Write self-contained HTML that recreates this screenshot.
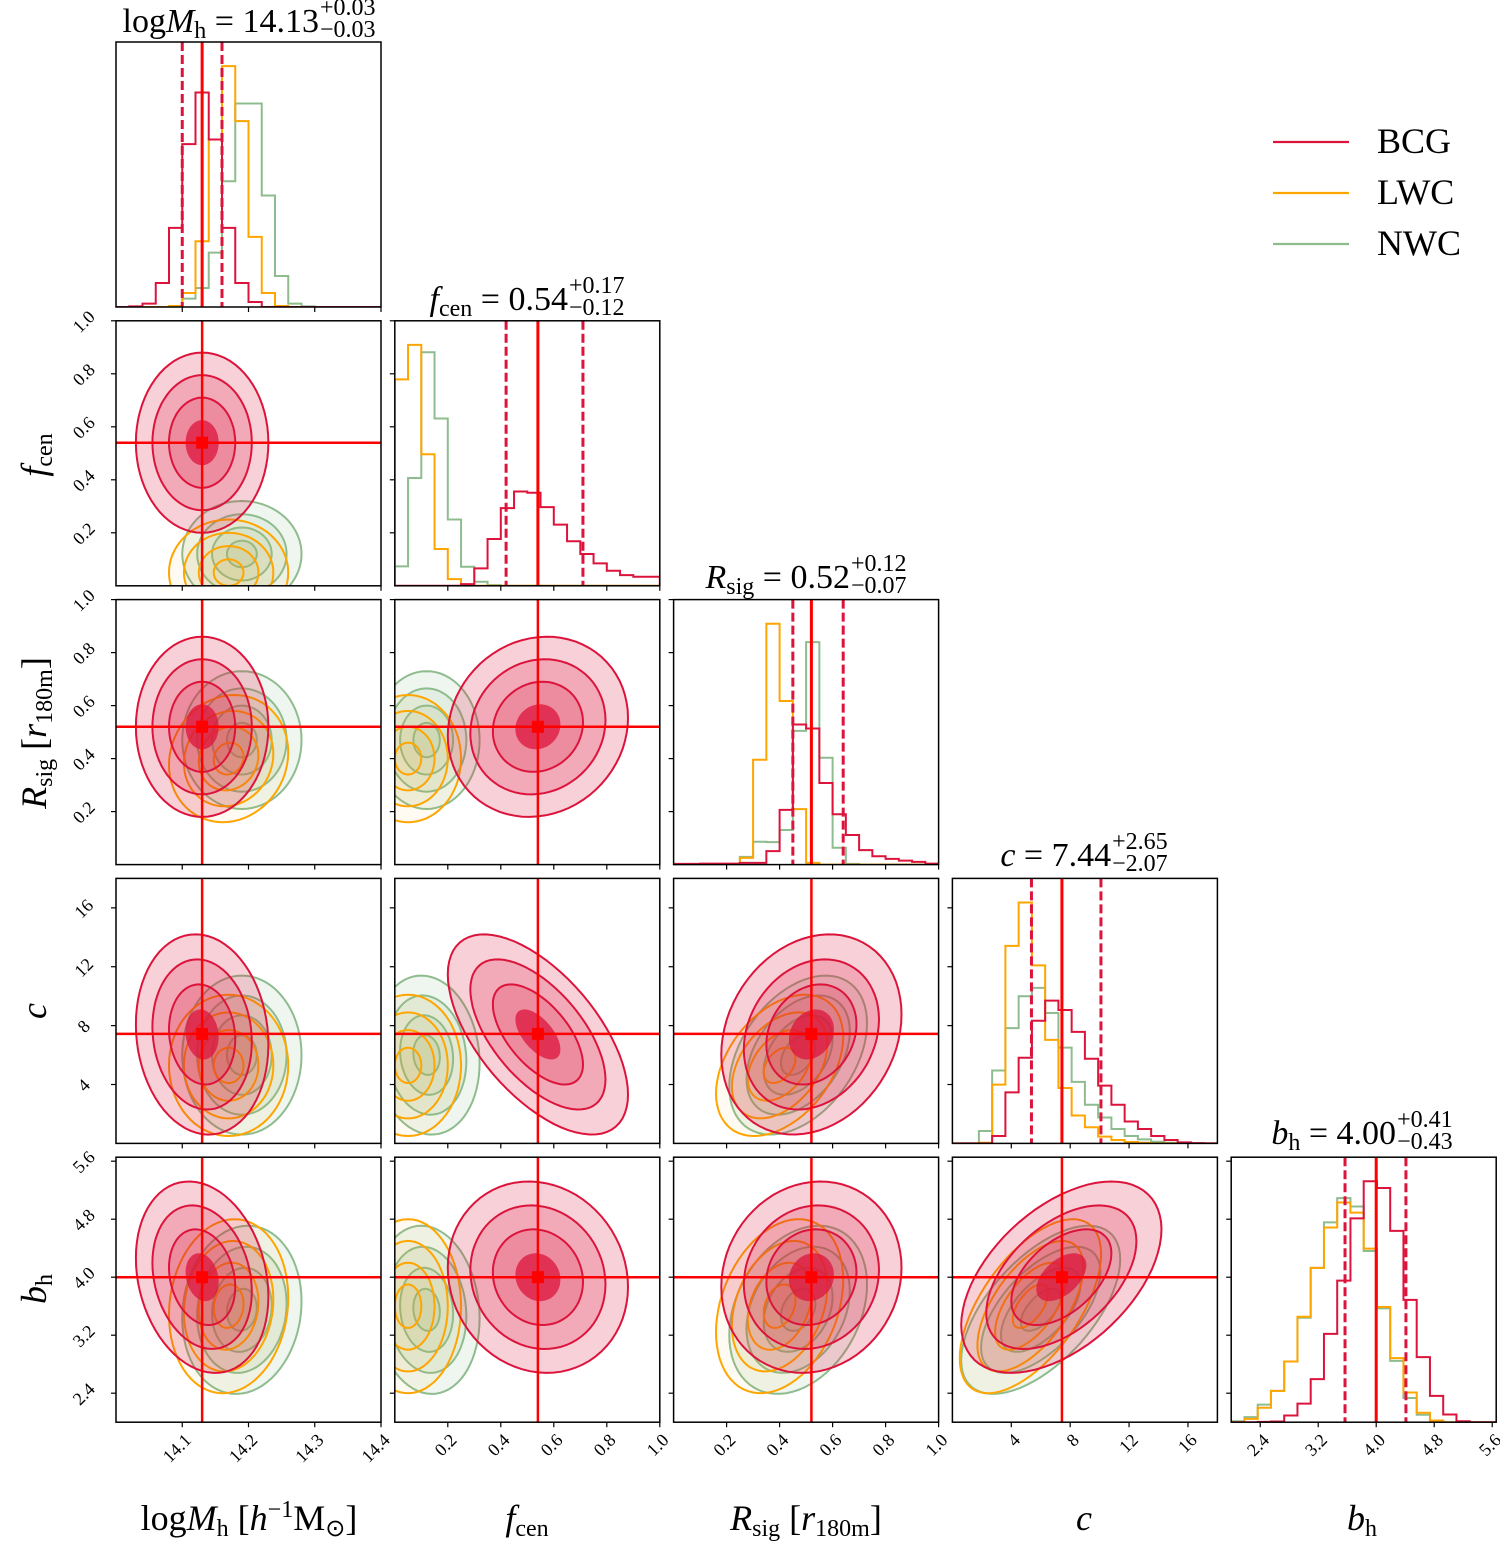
<!DOCTYPE html>
<html><head><meta charset="utf-8">
<style>
html,body{margin:0;padding:0;background:#fff;}
#wrap{position:relative;width:1500px;height:1548px;overflow:hidden;font-family:"Liberation Serif",serif;}
svg{position:absolute;left:0;top:0;}
.ttl{position:absolute;font-size:34px;white-space:nowrap;transform:translateX(-50%);line-height:1;}
.ss{display:inline-block;vertical-align:middle;font-size:24px;line-height:0.92;text-align:left;margin-left:1px;position:relative;top:-5px;}
.ss span{display:block;}
.xl{position:absolute;font-size:36px;white-space:nowrap;transform:translateX(-50%);top:1497px;}
.yl{position:absolute;font-size:36px;white-space:nowrap;transform:translate(-50%,-50%) rotate(-90deg);left:34px;}
sub{font-size:24px;vertical-align:-6px;line-height:0;}
sup{font-size:24px;vertical-align:13px;line-height:0;}
.leg{position:absolute;font-size:36px;left:1377px;}
</style></head><body>
<div id="wrap">
<svg id="plot" width="1500" height="1548"></svg>

<div class="ttl" style="left:249px;top:2px;">log<i>M</i><sub>h</sub> = 14.13<span class="ss"><span>+0.03</span><span>−0.03</span></span></div>
<div class="ttl" style="left:527px;top:280px;"><i>f</i><sub>cen</sub> = 0.54<span class="ss"><span>+0.17</span><span>−0.12</span></span></div>
<div class="ttl" style="left:806px;top:558px;"><i>R</i><sub>sig</sub> = 0.52<span class="ss"><span>+0.12</span><span>−0.07</span></span></div>
<div class="ttl" style="left:1084px;top:836px;"><i>c</i> = 7.44<span class="ss"><span>+2.65</span><span>−2.07</span></span></div>
<div class="ttl" style="left:1362px;top:1114px;"><i>b</i><sub>h</sub> = 4.00<span class="ss"><span>+0.41</span><span>−0.43</span></span></div>

<div class="xl" style="left:249px;">log<i>M</i><sub>h</sub> [<i>h</i><sup>−1</sup>M<sub>⊙</sub>]</div>
<div class="xl" style="left:527px;"><i>f</i><sub>cen</sub></div>
<div class="xl" style="left:806px;"><i>R</i><sub>sig</sub> [<i>r</i><sub>180m</sub>]</div>
<div class="xl" style="left:1084px;"><i>c</i></div>
<div class="xl" style="left:1362px;"><i>b</i><sub>h</sub></div>

<div class="yl" style="top:455px;"><i>f</i><sub>cen</sub></div>
<div class="yl" style="top:733px;"><i>R</i><sub>sig</sub> [<i>r</i><sub>180m</sub>]</div>
<div class="yl" style="top:1011px;"><i>c</i></div>
<div class="yl" style="top:1289px;"><i>b</i><sub>h</sub></div>

<div class="leg" style="top:120px;">BCG</div>
<div class="leg" style="top:171px;">LWC</div>
<div class="leg" style="top:222px;">NWC</div>
</div>
<script>
const paramNames = ['logMh','fcen','Rsig','c','bh'];
const axisLo = [14.0, 0, 0, 0, 2.0];
const axisHi = [14.4, 1, 1, 18, 5.655];
const tickVals = [[14.1,14.2,14.3,14.4],[0.2,0.4,0.6,0.8,1.0],[0.2,0.4,0.6,0.8,1.0],[4,8,12,16],[2.4,3.2,4.0,4.8,5.6]];
const tickLabels = [['14.1','14.2','14.3','14.4'],['0.2','0.4','0.6','0.8','1.0'],['0.2','0.4','0.6','0.8','1.0'],['4','8','12','16'],['2.4','3.2','4.0','4.8','5.6']];
const medians = [14.13, 0.54, 0.52, 7.44, 4.00];
const qLow = [14.10, 0.42, 0.45, 5.37, 3.57];
const qHigh = [14.16, 0.71, 0.64, 10.09, 4.41];

const histBCG = [
 [0,2,10,72,237,488,643,502,237,72,15,0,0,0,0,0,0,0,0,0],
 [0,0,0,0,0,5,52,140,232,282,278,235,183,133,95,67,45,32,27,27],
 [2,2,3,3,3,5,5,40,163,417,405,243,150,88,43,25,17,12,8,3],
 [0,0,0,22,152,255,365,425,397,332,252,172,115,65,43,22,10,3,1,0],
 [0,0,1,2,20,55,128,262,420,605,715,695,568,363,193,78,23,3,0,0]];
const histLWC = [
 [0,0,0,0,3,42,197,502,722,557,210,42,3,0,0,0,0,0,0,0],
 [617,720,393,110,20,3,0,0,0,0,0,0,0,0,0,0,0,0,0,0],
 [0,0,0,0,0,20,312,717,487,165,5,0,0,0,0,0,0,0,0,0],
 [0,0,2,175,588,717,530,308,165,83,48,20,10,4,2,0,0,0,0,0],
 [0,10,43,93,180,313,458,578,652,622,515,342,190,88,28,5,0,0,0,0]];
const histNWC = [
 [0,0,0,0,3,25,57,163,377,610,610,334,93,10,2,0,0,0,0,0],
 [58,322,698,500,198,57,12,2,0,0,0,0,0,0,0,0,0,0,0,0],
 [0,0,0,0,0,23,68,67,103,398,662,318,50,2,0,0,0,0,0,0],
 [0,0,37,217,343,438,463,388,285,183,115,77,43,22,12,5,2,0,0,0],
 [3,15,52,93,180,310,458,593,665,640,508,338,182,72,22,3,0,0,0,0]];

const meanBCG = [14.13, 0.54, 0.52, 7.4, 4.0];
const sigBCG = [0.05, 0.17, 0.17, 3.4, 0.66];
const meanLWC = [14.17, 0.05, 0.40, 5.3, 3.6];
const sigLWC = [0.045, 0.10, 0.12, 2.4, 0.6];
const meanNWC = [14.19, 0.12, 0.47, 6.0, 3.55];
const sigNWC = [0.045, 0.10, 0.13, 2.7, 0.58];
const corrBCG = [[1],[0,1],[0,0.1,1],[-0.1,-0.6,0.2,1],[-0.2,-0.1,0.1,0.5,1]];
const corrLWC = [[1],[0,1],[0.1,0,1],[0,0,0.4,1],[0.1,0,0.3,0.6,1]];
const corrNWC = [[1],[0,1],[0,0,1],[0,-0.1,0.4,1],[0.1,-0.1,0.3,0.6,1]];
const levels = [0.5, 1.0, 1.5, 2.0];

const L0 = 116, T0 = 42, STEP = 278.8, W = 265;
const NS = 'http://www.w3.org/2000/svg';
const svg = document.getElementById('plot');
function el(tag, attrs, parent){ const e=document.createElementNS(NS,tag); for(const k in attrs) e.setAttribute(k,attrs[k]); (parent||svg).appendChild(e); return e; }
function px0(j){ return L0 + j*STEP; }
function py0(i){ return T0 + i*STEP; }
function xs(j,v){ return px0(j) + (v-axisLo[j])/(axisHi[j]-axisLo[j])*W; }
function ys(i,v){ return py0(i) + W - (v-axisLo[i])/(axisHi[i]-axisLo[i])*W; }

const defs = el('defs',{});
const pops = [
 {name:'nwc', mean:meanNWC, sig:sigNWC, corr:corrNWC, hist:histNWC, color:'#8fbc8f', fill:'#8fbc8f', fo:0.14},
 {name:'lwc', mean:meanLWC, sig:sigLWC, corr:corrLWC, hist:histLWC, color:'#ffa500', fill:'#ffa500', fo:0.05},
 {name:'bcg', mean:meanBCG, sig:sigBCG, corr:corrBCG, hist:histBCG, color:'#dc143c', fill:'#dc143c', fo:0.2}
];

for(let i=0;i<5;i++){
 for(let j=0;j<=i;j++){
  const g = el('g',{});
  
  
  const cp = el('clipPath',{id:'cp'+i+j},defs);
  el('rect',{x:px0(j),y:py0(i),width:W,height:W},cp);
  const inner = el('g',{'clip-path':'url(#cp'+i+j+')'},g);
  if(i===j){
   let mx = 0;
   pops.forEach(p=>{ p.hist[i].forEach(v=>{ if(v>mx) mx=v; }); });
   const ymax = mx*1.1;
   pops.forEach(p=>{
    const h = p.hist[i]; const n = h.length; const bw = (axisHi[i]-axisLo[i])/n;
    const bottom = py0(i)+W;
    let d = 'M'+xs(j,axisLo[i])+','+bottom;
    for(let b=0;b<n;b++){
     const yv = bottom - h[b]/ymax*W;
     d += ' L'+xs(j,axisLo[i]+b*bw)+','+yv+' L'+xs(j,axisLo[i]+(b+1)*bw)+','+yv;
    }
    d += ' L'+xs(j,axisHi[i])+','+bottom;
    const path = el('path',{d:d,fill:'none',stroke:p.color,'stroke-width':2},inner);
    
    
   });
   [qLow[i],qHigh[i]].forEach((q,k)=>{
    const ln = el('line',{x1:xs(j,q),x2:xs(j,q),y1:py0(i),y2:py0(i)+W,stroke:'#dc143c','stroke-width':3,'stroke-dasharray':'9,4'},inner);
    
    
   });
   const ml = el('line',{x1:xs(j,medians[i]),x2:xs(j,medians[i]),y1:py0(i),y2:py0(i)+W,stroke:'#ff0000','stroke-width':3},inner);
   
   
  } else {
   pops.forEach(p=>{
    const rho = p.corr[i][j];
    const lv = levels.slice().reverse();
    lv.forEach((k,li)=>{
     let pts=[];
     for(let t=0;t<72;t++){
      const a = t/72*2*Math.PI;
      const vx = p.mean[j] + k*p.sig[j]*Math.cos(a);
      const vy = p.mean[i] + k*p.sig[i]*(rho*Math.cos(a)+Math.sqrt(1-rho*rho)*Math.sin(a));
      pts.push(xs(j,vx).toFixed(1)+','+ys(i,vy).toFixed(1));
     }
     const isCore = (li===lv.length-1);
     const poly = el('polygon',{points:pts.join(' '),fill:p.fill,'fill-opacity':(p.name==='bcg'&&isCore)?0.75:p.fo,stroke:p.color,'stroke-width':isCore&&p.name==='bcg'?0:2},inner);
     
     
    });
   });
   const vl = el('line',{x1:xs(j,medians[j]),x2:xs(j,medians[j]),y1:py0(i),y2:py0(i)+W,stroke:'#ff0000','stroke-width':2.5},inner);
   
   
   const hl = el('line',{x1:px0(j),x2:px0(j)+W,y1:ys(i,medians[i]),y2:ys(i,medians[i]),stroke:'#ff0000','stroke-width':2.5},inner);
   
   
   const mk = el('rect',{x:xs(j,medians[j])-6,y:ys(i,medians[i])-6,width:12,height:12,fill:'#ff0000'},inner);
   
   
  }
  const fr = el('rect',{x:px0(j),y:py0(i),width:W,height:W,fill:'none',stroke:'#000','stroke-width':1.5},g);
  
  
  tickVals[j].forEach((v,k)=>{
   const x = xs(j,v), yb = py0(i)+W;
   const tk = el('line',{x1:x,x2:x,y1:yb,y2:yb+5,stroke:'#000','stroke-width':1.2},g);
   
   
   if(i===4){
    const tx = el('text',{x:x+10,y:yb+19,'text-anchor':'end','font-size':18,'font-family':'Liberation Serif, serif',transform:'rotate(-45 '+(x+10)+' '+(yb+19)+')'},g);
    tx.textContent = tickLabels[j][k];
    
    
   }
  });
  if(i>0){
   tickVals[i].forEach((v,k)=>{
    const y = ys(i,v), xl = px0(j);
    const tk = el('line',{x1:xl-5,x2:xl,y1:y,y2:y,stroke:'#000','stroke-width':1.2},g);
    
    
    if(j===0){
     const cx = xl-28, cy = y+5;
     const tx = el('text',{x:cx,y:cy,'text-anchor':'middle','font-size':18,'font-family':'Liberation Serif, serif',transform:'rotate(-45 '+cx+' '+cy+')'},g);
     tx.textContent = tickLabels[i][k];
     
     
    }
   });
  }
 }
}
const legColors = ['#dc143c','#ffa500','#8fbc8f'];
const legNames = ['bcg','lwc','nwc'];
legColors.forEach((c,k)=>{
 const ln = el('line',{x1:1273,x2:1349,y1:142+k*51,y2:142+k*51,stroke:c,'stroke-width':2.2});
 
 
});
</script>
</body></html>
